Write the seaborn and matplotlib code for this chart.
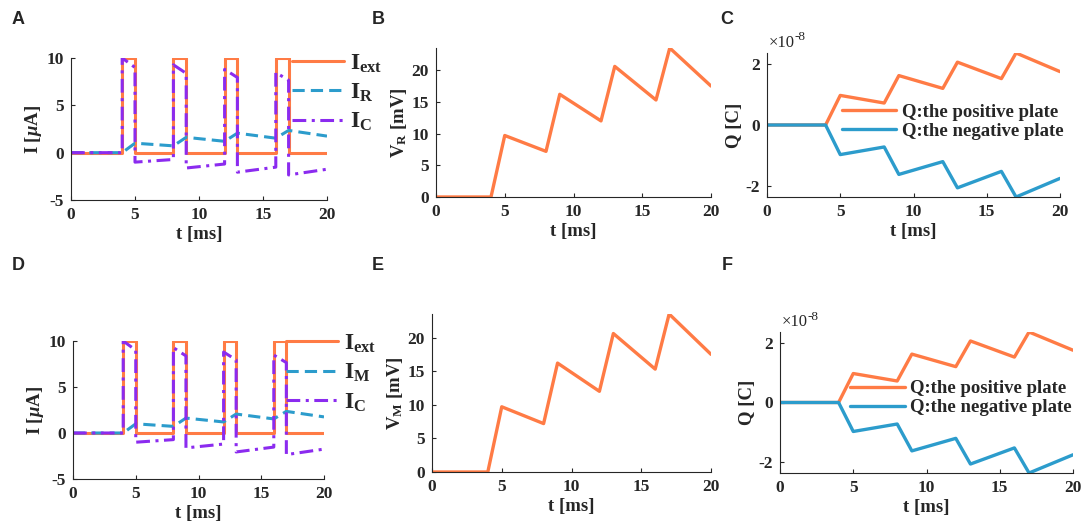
import numpy as np
import matplotlib
matplotlib.use("Agg")
import matplotlib.pyplot as plt
import seaborn as sns
from matplotlib.ticker import FuncFormatter

# step time base for the current traces (duplicated points = vertical jumps)
t_step = [0, 4, 4, 5, 5, 8, 8, 9, 9, 12, 12, 13, 13, 16, 16, 17, 17, 20]
i_ext = [0, 0, 10, 10, 0, 0, 10, 10, 0, 0, 10, 10, 0, 0, 10, 10, 0, 0]
i_r = [0, 0, 0, 1.0, 1.0, 0.72, 0.72, 1.62, 1.62, 1.2, 1.2, 2.06, 2.06, 1.53, 1.53, 2.35, 2.35, 1.75]
i_c = [0, 0, 10, 9.0, -1.0, -0.72, 9.28, 8.38, -1.62, -1.2, 8.8, 7.94, -2.06, -1.53, 8.47, 7.65, -2.35, -1.75]

# vertex times for voltage / charge traces
t_v = [0, 4, 5, 8, 9, 12, 13, 16, 17, 20]
v_r = [0, 0, 9.7, 7.2, 16.2, 12.0, 20.6, 15.3, 23.5, 17.5]
q_pos = [0, 0, 0.97e-8, 0.72e-8, 1.62e-8, 1.2e-8, 2.06e-8, 1.52e-8, 2.36e-8, 1.75e-8]
q_neg = [0, 0, -0.97e-8, -0.72e-8, -1.62e-8, -1.2e-8, -2.06e-8, -1.52e-8, -2.36e-8, -1.75e-8]

ORANGE = "#FF7B45"
BLUE = "#2C9CCC"
PURPLE = "#8B2BEF"

sns.set_style("ticks")
plt.rcParams["font.family"] = ["Liberation Serif", "DejaVu Serif"]
plt.rcParams["font.weight"] = "bold"
plt.rcParams["axes.labelweight"] = "bold"
plt.rcParams["axes.unicode_minus"] = False
plt.rcParams["mathtext.fontset"] = "custom"
plt.rcParams["mathtext.rm"] = "Liberation Serif:bold"
plt.rcParams["mathtext.it"] = "Liberation Serif:italic:bold"
plt.rcParams["mathtext.bf"] = "Liberation Serif:bold"
plt.rcParams["axes.edgecolor"] = "#262626"
plt.rcParams["xtick.direction"] = "in"
plt.rcParams["ytick.direction"] = "in"
plt.rcParams["xtick.labelsize"] = 12.5
plt.rcParams["ytick.labelsize"] = 12.5
plt.rcParams["axes.labelsize"] = 13.5

W, H = 1084, 526
fig = plt.figure(figsize=(W / 100, H / 100), dpi=100)


def box(l, r, t, b):
    return [l / W, 1 - b / H, (r - l) / W, (b - t) / H]


def style(ax):
    sns.despine(ax=ax)
    ax.set_xlim(0, 20)
    ax.set_xticks([0, 5, 10, 15, 20])
    ax.set_xlabel("t [ms]", labelpad=2)
    ax.tick_params(length=3, width=0.8, pad=5)


def current_panel(ax, mid_label, leg_x, leg_y):
    sns.lineplot(x=t_step, y=i_ext, ax=ax, estimator=None, sort=False,
                 color=ORANGE, lw=2.2, label=r"$\mathrm{I_{ext}}$")
    sns.lineplot(x=t_step, y=i_r, ax=ax, estimator=None, sort=False,
                 color=BLUE, lw=2.2, label=mid_label)
    sns.lineplot(x=t_step, y=i_c, ax=ax, estimator=None, sort=False,
                 color=PURPLE, lw=2.2, label=r"$\mathrm{I_C}$")
    ax.lines[1].set_dashes([4, 2])
    ax.lines[2].set_dashes([4.5, 1.8, 1, 1.8])
    ax.set_ylim(-5, 10)
    ax.set_yticks([-5, 0, 5, 10])
    ax.set_ylabel(r"I [$\mu$A]", labelpad=2)
    style(ax)
    leg = ax.legend(loc="upper left", bbox_to_anchor=(leg_x, leg_y), frameon=False,
                    fontsize=17, handlelength=2.2, handletextpad=0.25,
                    labelspacing=0.3, borderpad=0, borderaxespad=0)
    for h in leg.legend_handles:
        h.set_linewidth(2.2)


def volt_panel(ax, label):
    sns.lineplot(x=t_v, y=v_r, ax=ax, estimator=None, sort=False, color=ORANGE, lw=2.4)
    ax.set_ylim(0, max(v_r))
    ax.set_yticks([0, 5, 10, 15, 20])
    ax.set_ylabel(label, labelpad=2)
    style(ax)


def charge_panel(ax, leg_x, leg_y):
    sns.lineplot(x=t_v, y=q_pos, ax=ax, estimator=None, sort=False,
                 color=ORANGE, lw=2.4, label="Q:the positive plate")
    sns.lineplot(x=t_v, y=q_neg, ax=ax, estimator=None, sort=False,
                 color=BLUE, lw=2.4, label="Q:the negative plate")
    lim = max(q_pos)
    ax.set_ylim(-lim, lim)
    ax.set_yticks([-2e-8, 0, 2e-8])
    ax.yaxis.set_major_formatter(FuncFormatter(lambda v, p: f"{v / 1e-8:.0f}"))
    ax.set_ylabel("Q [C]", labelpad=2)
    style(ax)
    # MATLAB-style exponent label above the y axis
    ax.annotate("\u00d710", xy=(0, 1), xycoords="axes fraction", xytext=(1, 4),
                textcoords="offset points", fontsize=12, fontweight="normal",
                ha="left", va="baseline")
    ax.annotate("-8", xy=(0, 1), xycoords="axes fraction", xytext=(19.5, 9),
                textcoords="offset points", fontsize=9.5, fontweight="normal",
                ha="left", va="baseline")
    ax.legend(loc="upper left", bbox_to_anchor=(leg_x, leg_y), frameon=False,
              fontsize=13.5, handlelength=2.9, handletextpad=0.3,
              labelspacing=0.12, borderpad=0, borderaxespad=0)


axA = fig.add_axes(box(71, 327, 58, 200))
current_panel(axA, r"$\mathrm{I_R}$", 0.865, 1.04)
axB = fig.add_axes(box(436, 711, 48, 197))
volt_panel(axB, r"$\mathrm{V_R}$ [mV]")
axC = fig.add_axes(box(767, 1060, 53, 197))
charge_panel(axC, 0.255, 0.65)

axD = fig.add_axes(box(73, 324, 341, 479))
current_panel(axD, r"$\mathrm{I_M}$", 0.85, 1.06)
axE = fig.add_axes(box(432, 711, 314, 472))
volt_panel(axE, r"$\mathrm{V_M}$ [mV]")
axF = fig.add_axes(box(780, 1073, 332, 473))
charge_panel(axF, 0.24, 0.66)

for letter, x, y in [("A", 18, 20), ("B", 378, 20), ("C", 727, 20),
                     ("D", 18, 265), ("E", 378, 265), ("F", 727, 265)]:
    fig.text(x / W, 1 - y / H, letter, family="Liberation Sans", weight="bold",
             fontsize=13, ha="center", va="center")

fig.savefig("out.png", dpi=100)
